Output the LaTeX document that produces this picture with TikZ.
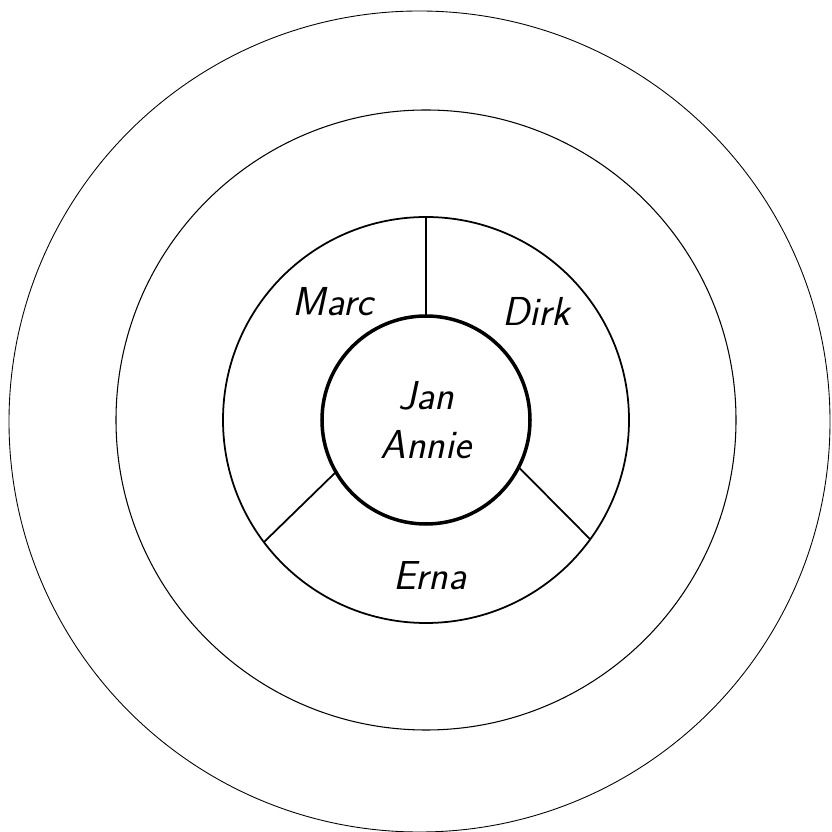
\documentclass[tikz,border=0pt]{standalone}
\usepackage{tikz}
\usetikzlibrary{positioning}

\tikzset{
  disc/.style={circle, draw, inner sep=0pt, outer sep=0pt},
  person/.style={font=\fontsize{23}{28}\selectfont\sffamily\slshape}
}

\begin{document}
\begin{tikzpicture}
      \useasboundingbox (-8.52,-8.24) rectangle (8.10,8.40);

      % outer circles
      \node[disc, line width=0.5pt, minimum size=16.42cm] (far) at (-0.13,-0.03) {};
      \node[disc, line width=0.6pt, minimum size=12.40cm] (wide) at (0,0) {};

      % ring with the three segments
      \node[disc, line width=1pt, minimum size=8.12cm] (ring) at (0,0) {};

      % core
      \node[disc, line width=2pt, minimum size=4.16cm, person, align=center] (core) at (0,0) {Jan\\Annie};

      % dividers
      \draw[line width=1pt] (core.90) -- (ring.90);
      \draw[line width=1pt] (core.210) -- (ring.217);
      \draw[line width=1pt] (core.-27) -- (ring.-36);

      \node[person] (marc) at (-1.86,2.36) {Marc};
      \node[person] (dirk) at (2.20,2.18) {Dirk};
      \node[person] (erna) at (0.08,-3.12) {Erna};
    \end{tikzpicture}
\end{document}
